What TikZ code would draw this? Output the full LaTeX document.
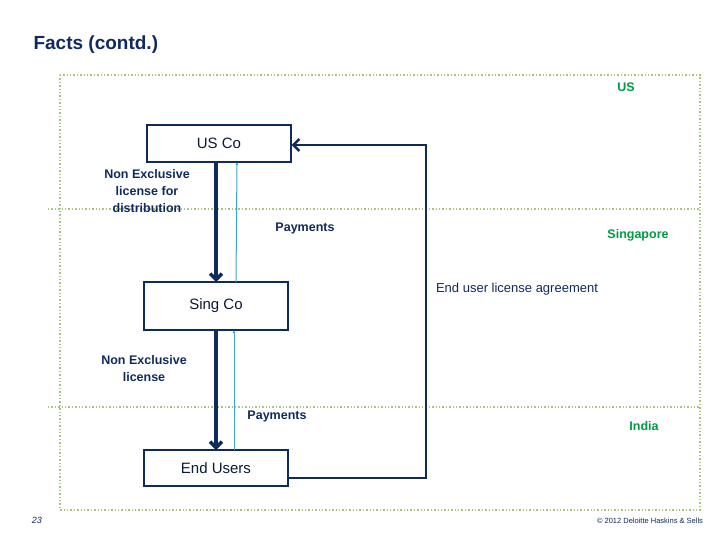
\documentclass[tikz,border=0pt]{standalone}
\usepackage{fontspec}
\setmainfont{Liberation Sans}
\usetikzlibrary{arrows.meta}
\definecolor{navy}{HTML}{0F2A5C}
\definecolor{grn}{HTML}{009A44}
\definecolor{dotg}{HTML}{A9C47F}
\definecolor{lblue}{HTML}{3AA6C9}
\begin{document}
\begin{tikzpicture}[x=1pt,y=-1pt,
 box/.style={draw=navy,line width=1.4pt,minimum width=144pt,font=\fontsize{15}{17}\selectfont,text=navy!60!black},
 lbl/.style={text=navy,font=\bfseries\fontsize{12.5}{17}\selectfont,align=center},
 reg/.style={text=grn,font=\bfseries\fontsize{12.5}{14}\selectfont},
 bigarr/.style={draw=navy,line width=3.5pt,-{Straight Barb[length=6pt,width=12pt]}},
 pay/.style={draw=lblue,line width=1pt,-{Latex[length=3pt,width=3pt]}},
 dots/.style={draw=dotg,line width=1.4pt,dotted}]
\useasboundingbox (0,0) rectangle (720,540);
\draw[dots] (60,75) rectangle (700,510);
\draw[dots] (48,209) -- (700,209);
\draw[dots] (48,407) -- (700,407);
\node[anchor=west,text=navy,font=\bfseries\fontsize{19}{22}\selectfont] (title) at (30,45) {Facts (contd.)};
\node[box,minimum height=37pt] (us) at (219,143.5) {US Co};
\node[box,minimum height=48pt] (sing) at (216,306) {Sing Co};
\node[box,minimum height=36pt] (eu) at (216,468) {End Users};
\draw[bigarr] (216,162) -- (216,282);
\draw[pay] (236,282) -- (237,162);
\draw[bigarr] (216,330) -- (216,450);
\draw[pay] (234,450) -- (234,330);
\coordinate (c1) at (426,478);
\coordinate (c2) at (426,145);
\draw[navy,line width=2.5pt,-{Straight Barb[length=6pt,width=12pt]}] (eu.east |- c1) -- (c1) -- (c2) -- (us.east |- c2);
\node[lbl] (l1) at (147,191) {Non Exclusive\\license for\\distribution};
\node[lbl] (l2) at (144,369) {Non Exclusive\\license};
\node[lbl] (p1) at (305,228) {Payments};
\node[lbl] (p2) at (277,416) {Payments};
\node[lbl,font=\fontsize{13}{17}\selectfont] (eula) at (517,289) {End user license agreement};
\node[reg] (rus) at (626,87) {US};
\node[reg] (rsg) at (638,235) {Singapore};
\node[reg] (rin) at (644,426) {India};
\node[text=navy,font=\itshape\fontsize{9}{10}\selectfont] (pg) at (37,520) {23};
\node[text=navy,font=\fontsize{7.5}{9}\selectfont] (cr) at (650,521) {\textcopyright{} 2012 Deloitte Haskins \& Sells};
\end{tikzpicture}
\end{document}
